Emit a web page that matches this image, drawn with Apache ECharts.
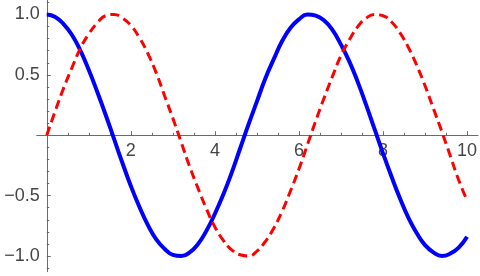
<!DOCTYPE html>
<html>
<head>
<meta charset="utf-8">
<script src="https://cdn.jsdelivr.net/npm/echarts@6/dist/echarts.min.js"></script>
<style>
html,body{margin:0;padding:0;background:#fff;}
#chart{width:480px;height:276px;}
</style>
</head>
<body>
<div id="chart"></div>
<script>
// x positions of sampled points
const xValues = [0,0.2,0.4,0.6,0.8,1,1.2,1.4,1.6,1.8,2,2.2,2.4,2.6,2.8,3,3.2,3.4,3.6,3.8,4,4.2,4.4,4.6,4.8,5,5.2,5.4,5.6,5.8,6,6.2,6.4,6.6,6.8,7,7.2,7.4,7.6,7.8,8,8.2,8.4,8.6,8.8,9,9.2,9.4,9.6,9.8,10];
// blue solid curve
const blueValues = [1.00,0.98,0.92,0.83,0.70,0.54,0.36,0.17,-0.03,-0.23,-0.42,-0.59,-0.74,-0.86,-0.94,-0.99,-1.00,-0.97,-0.90,-0.79,-0.65,-0.49,-0.31,-0.11,0.09,0.28,0.47,0.63,0.78,0.89,0.96,1.00,0.99,0.95,0.87,0.75,0.61,0.44,0.25,0.05,-0.15,-0.34,-0.52,-0.68,-0.81,-0.91,-0.97,-1.00,-0.98,-0.93,-0.84];
// red dashed curve
const redValues = [0.00,0.20,0.39,0.56,0.72,0.84,0.93,0.99,1.00,0.97,0.91,0.81,0.68,0.52,0.33,0.14,-0.06,-0.26,-0.44,-0.61,-0.76,-0.87,-0.95,-0.99,-1.00,-0.96,-0.88,-0.77,-0.63,-0.46,-0.28,-0.08,0.12,0.31,0.49,0.66,0.79,0.90,0.97,1.00,0.99,0.94,0.85,0.73,0.58,0.41,0.22,0.03,-0.17,-0.37,-0.54];
// tick labels / tick positions
const xTickLabels = [2,4,6,8,10];
const xMinorTicks = [0.5,1,1.5,2.5,3,3.5,4.5,5,5.5,6.5,7,7.5,8.5,9,9.5];
const yTickLabels = [-1,-0.5,0.5,1];
const yMinorTicks = [-1.1,-0.9,-0.8,-0.7,-0.6,-0.4,-0.3,-0.2,-0.1,0.1,0.2,0.3,0.4,0.6,0.7,0.8,0.9,1.1];

const axisColor = '#6b6b6b';
const textColor = '#454545';
const font = 'Liberation Sans';
const fontSize = 18;
const xMin = -0.24, xMax = 10.26, yMin = -1.13, yMax = 1.12;

// plot frame
const W = 480, H = 276;
const gLeft = 36.7, gRight = 2, gTop = 0, gBottom = 4.3;
const plotW = W - gLeft - gRight, plotH = H - gTop - gBottom;
const zeroY = gTop + (yMax / (yMax - yMin)) * plotH;   // pixel row of y = 0
const zeroX = gLeft + (-xMin / (xMax - xMin)) * plotW; // pixel column of x = 0

function fmtY(v){
  const s = Math.abs(v).toFixed(1);
  return v < 0 ? '\u2212' + s : s;
}
const lineStyle = {color:axisColor, width:1};
const labelStyle = {fontSize:fontSize, color:textColor, fontFamily:font};
const hidden = (extra) => Object.assign({show:false, type:'value'}, extra);

const chart = echarts.init(document.getElementById('chart'), null, {renderer:'canvas'});
chart.setOption({
  animation:false,
  backgroundColor:'#fff',
  grid:[
    {left:gLeft, right:gRight, top:gTop, bottom:gBottom, outerBoundsMode:'none', containLabel:false},
    {left:gLeft, right:gRight, top:gTop, height:zeroY - gTop, outerBoundsMode:'none', containLabel:false},
    {left:zeroX, right:gRight, top:gTop, bottom:gBottom, outerBoundsMode:'none', containLabel:false}
  ],
  xAxis:[
    hidden({gridIndex:0, min:xMin, max:xMax}),
    {type:'value', gridIndex:1, min:xMin, max:xMax, position:'bottom',
     axisLine:{show:true, onZero:false, lineStyle:lineStyle},
     axisTick:{show:true, inside:true, length:4, customValues:xTickLabels, lineStyle:{color:axisColor}},
     axisLabel:Object.assign({show:true, customValues:xTickLabels, margin:7}, labelStyle),
     splitLine:{show:false}},
    {type:'value', gridIndex:1, min:xMin, max:xMax, position:'bottom',
     axisLine:{show:false, onZero:false},
     axisTick:{show:true, inside:true, length:2.5, customValues:xMinorTicks, lineStyle:{color:axisColor}},
     axisLabel:{show:false},
     splitLine:{show:false}},
    hidden({gridIndex:2, min:0, max:1})
  ],
  yAxis:[
    hidden({gridIndex:0, min:yMin, max:yMax}),
    hidden({gridIndex:1, min:0, max:1}),
    {type:'value', gridIndex:2, min:yMin, max:yMax, position:'left',
     axisLine:{show:true, onZero:false, lineStyle:lineStyle},
     axisTick:{show:true, inside:true, length:4, customValues:yTickLabels, lineStyle:{color:axisColor}},
     axisLabel:Object.assign({show:true, customValues:yTickLabels, margin:7, formatter:fmtY}, labelStyle),
     splitLine:{show:false}},
    {type:'value', gridIndex:2, min:yMin, max:yMax, position:'left',
     axisLine:{show:false, onZero:false},
     axisTick:{show:true, inside:true, length:2.5, customValues:yMinorTicks, lineStyle:{color:axisColor}},
     axisLabel:{show:false},
     splitLine:{show:false}}
  ],
  series:[
    {type:'line', xAxisIndex:0, yAxisIndex:0, showSymbol:false, smooth:true,
     data:xValues.map((x,i)=>[x, blueValues[i]]),
     lineStyle:{color:'#0000ff', width:4}, itemStyle:{color:'#0000ff'}},
    {type:'line', xAxisIndex:0, yAxisIndex:0, showSymbol:false, smooth:true,
     data:xValues.map((x,i)=>[x, redValues[i]]),
     lineStyle:{color:'#ff0000', width:3, type:[9,5], cap:'butt'}, itemStyle:{color:'#ff0000'}}
  ]
});
</script>
</body>
</html>
